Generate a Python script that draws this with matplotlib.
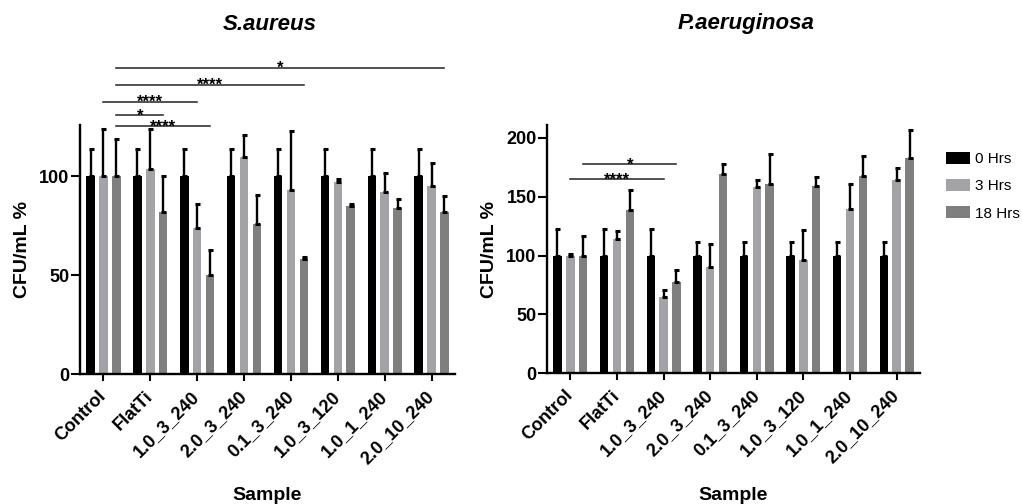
import numpy as np
import matplotlib
matplotlib.use("Agg")
import matplotlib.pyplot as plt

plt.rcParams['font.family'] = ['Liberation Sans', 'DejaVu Sans']

# data (mean %, upper error)
samples = ['Control', 'FlatTi', '1.0_3_240', '2.0_3_240', '0.1_3_240',
           '1.0_3_120', '1.0_1_240', '2.0_10_240']
series = ['0 Hrs', '3 Hrs', '18 Hrs']
colors = ['#000000', '#A2A2A7', '#7F7F7F']

sa_0h = [100, 100, 100, 100, 100, 100, 100, 100]
sa_0h_err = [14, 14, 14, 14, 14, 14, 14, 14]
sa_3h = [100, 104, 74, 110, 93, 97, 92, 95]
sa_3h_err = [24, 20, 12, 11, 30, 1.5, 9.5, 12]
sa_18h = [100, 82, 50, 76, 58.5, 85, 84, 82]
sa_18h_err = [19, 18, 13, 14.5, 0.8, 1.3, 4.5, 8]

pa_0h = [100, 100, 100, 100, 100, 100, 100, 100]
pa_0h_err = [23, 23, 23, 12, 12, 12, 12, 12]
pa_3h = [100, 114, 65, 90, 158, 96, 140, 164]
pa_3h_err = [1.5, 7, 6, 20, 6, 26, 21, 10.5]
pa_18h = [100, 139, 78, 169, 161, 159, 168, 183]
pa_18h_err = [17, 17, 10, 8.5, 25, 8, 16.5, 24]

# significance: (group a, series a, group b, series b, height, label)
sa_sig = [(0, 2, 7, 2, 155, '*'),
          (0, 2, 4, 2, 146.4, '****'),
          (0, 1, 2, 1, 137.8, '****'),
          (0, 2, 1, 2, 131.2, '*'),
          (0, 2, 2, 2, 125.6, '****')]
pa_sig = [(0, 2, 2, 2, 177.7, '*'),
          (0, 1, 2, 1, 164.7, '****')]

W, H = 1022, 504
fig = plt.figure(figsize=(W / 100, H / 100), dpi=100)

offset = 0.275
width = 0.18


def draw(ax, vals, errs, sigs, ylim, yticks):
    x = np.arange(len(samples))
    bars = []
    for k in range(3):
        b = ax.bar(x + (k - 1) * offset, vals[k], width, color=colors[k],
                   yerr=[np.zeros(len(samples)), errs[k]],
                   error_kw=dict(ecolor='black', elinewidth=1.7, capsize=1.8,
                                 capthick=2.2), zorder=2)
        bars.append(b)
    for ga, sa, gb, sb, y, lab in sigs:
        xa = ga + (sa - 1) * offset
        xb = gb + (sb - 1) * offset
        ax.plot([xa, xb], [y, y], color='#222222', lw=1.1, clip_on=False)
        ax.annotate(lab, xy=((xa + xb) / 2, y), xytext=(0, -4),
                    textcoords='offset points', ha='center', va='baseline',
                    fontsize=12, fontweight='bold', annotation_clip=False)
    ax.set_xlim(-0.5, 7.5)
    ax.set_ylim(*ylim)
    ax.set_yticks(yticks)
    ax.set_xticks(x)
    ax.set_xticklabels(samples, rotation=45, ha='right', va='center',
                       rotation_mode='anchor', fontsize=13, fontweight='bold')
    for t in ax.get_yticklabels():
        t.set_fontsize(13)
        t.set_fontweight('bold')
    for s in ['top', 'right']:
        ax.spines[s].set_visible(False)
    for s in ['left', 'bottom']:
        ax.spines[s].set_linewidth(1.7)
    ax.tick_params(axis='y', length=6.5, width=1.5, pad=1)
    ax.tick_params(axis='x', length=5, width=1.5, pad=9)
    return bars


ax1 = fig.add_axes([80 / W, 1 - 374.3 / H, 375 / W, 249.3 / H])
draw(ax1, [sa_0h, sa_3h, sa_18h], [sa_0h_err, sa_3h_err, sa_18h_err],
     sa_sig, (0, 126), [0, 50, 100])

ax2 = fig.add_axes([547 / W, 1 - 373.3 / H, 373 / W, 248.3 / H])
bars = draw(ax2, [pa_0h, pa_3h, pa_18h], [pa_0h_err, pa_3h_err, pa_18h_err],
            pa_sig, (0, 211), [0, 50, 100, 150, 200])

fig.text(270 / W, 1 - 25 / H, 'S.aureus', ha='center', va='center',
         fontsize=16, fontweight='bold', style='italic')
fig.text(746 / W, 1 - 23 / H, 'P.aeruginosa', ha='center', va='center',
         fontsize=16, fontweight='bold', style='italic')

fig.text(22.5 / W, 1 - 250 / H, 'CFU/mL %', rotation=90, ha='center',
         va='center', fontsize=14, fontweight='bold')
fig.text(489 / W, 1 - 250 / H, 'CFU/mL %', rotation=90, ha='center',
         va='center', fontsize=14, fontweight='bold')

fig.text(267.5 / W, 1 - 495 / H, 'Sample', ha='center', va='center',
         fontsize=14, fontweight='bold')
fig.text(733.5 / W, 1 - 495 / H, 'Sample', ha='center', va='center',
         fontsize=14, fontweight='bold')

fig.legend([b.patches[0] for b in bars], series, loc='upper left',
           bbox_to_anchor=(946 / W, 1 - 152 / H), frameon=False,
           fontsize=11, borderpad=0, handlelength=1.57, handleheight=0.82,
           handletextpad=0.35, labelspacing=0.85, borderaxespad=0)

fig.savefig('out.png', dpi=100)
